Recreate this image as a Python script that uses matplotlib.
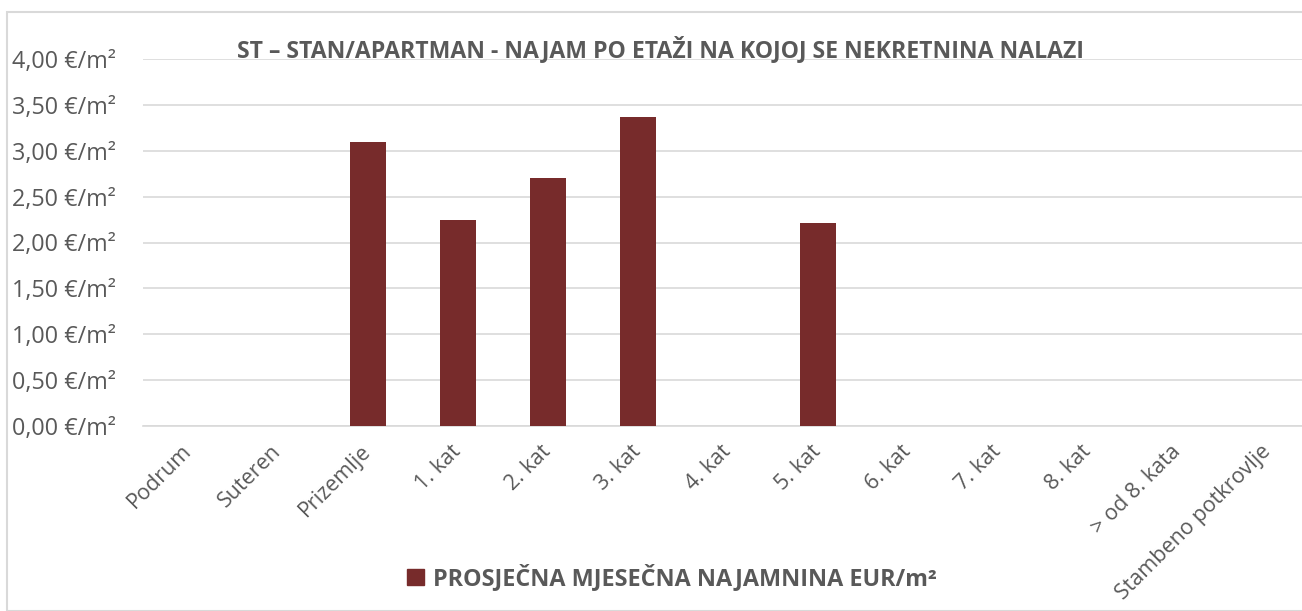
import matplotlib
matplotlib.use("Agg")
import matplotlib.pyplot as plt
from matplotlib.patches import Rectangle, Patch

categories = ["Podrum", "Suteren", "Prizemlje", "1. kat", "2. kat", "3. kat", "4. kat",
              "5. kat", "6. kat", "7. kat", "8. kat", "> od 8. kata", "Stambeno potkrovlje"]
values = [0, 0, 3.09, 2.25, 2.70, 3.37, 0, 2.21, 0, 0, 0, 0, 0]
yticks = [0, 0.5, 1.0, 1.5, 2.0, 2.5, 3.0, 3.5, 4.0]
ytick_labels = ["0,00 €/m²", "0,50 €/m²", "1,00 €/m²", "1,50 €/m²", "2,00 €/m²",
                "2,50 €/m²", "3,00 €/m²", "3,50 €/m²", "4,00 €/m²"]
title = "ST – STAN/APARTMAN - NAJAM PO ETAŽI NA KOJOJ SE NEKRETNINA NALAZI"
legend_label = "PROSJEČNA MJESEČNA NAJAMNINA EUR/m²"

plt.rcParams['font.family'] = ['Open Sans', 'DejaVu Sans']
txt = '#595959'
bar_color = '#772B2B'
W, H = 1302, 611
left_px, right_px = 143, 1313
fig = plt.figure(figsize=(W/100, H/100), dpi=100)
ax = fig.add_axes([left_px/W, 1-426/H, (right_px-left_px)/W, (426-59)/H])
ax.set_clip_on(True)

x = list(range(len(categories)))
ax.bar(x, values, width=0.40, color=bar_color, zorder=3)
ax.set_xlim(-0.5, len(categories)-0.5)
ax.set_ylim(0, 4)
ax.set_yticks(yticks)
ax.set_yticklabels(ytick_labels, fontsize=16.8, color=txt)
ax.yaxis.grid(True, color='#D9D9D9', linewidth=1.2, zorder=0)
ax.set_xticks(x)
ax.set_xticklabels(categories, fontsize=15.5, color=txt, rotation=45, ha='right',
                   va='center', rotation_mode='anchor')
ax.tick_params(axis='x', length=0, pad=16)
ax.tick_params(axis='y', length=0, pad=0)
for s in ['top', 'right', 'left']:
    ax.spines[s].set_visible(False)
ax.spines['bottom'].set_color('#D9D9D9')
ax.spines['bottom'].set_linewidth(1.2)
for lbl in ax.get_yticklabels():
    lbl.set_horizontalalignment('left')
    lbl.set_x(-(left_px-12)/(right_px-left_px))

fig.text(660/W, 1-50/H, title, ha='center', va='center', fontsize=16.6,
         fontweight='bold', color=txt)

fig.legend(handles=[Patch(color=bar_color, label=legend_label)], loc='center',
           bbox_to_anchor=(672/W, 1-578/H), frameon=False, handlelength=0.7,
           handleheight=0.7, handletextpad=0.4,
           prop={'size': 16.8, 'weight': 'bold'}, labelcolor=txt)

fig.add_artist(Rectangle((7/W, 0), 1.2, 1-12/H, transform=fig.transFigure,
                         fill=False, edgecolor='#D9D9D9', linewidth=1.5))

fig.savefig("out.png", dpi=100)
